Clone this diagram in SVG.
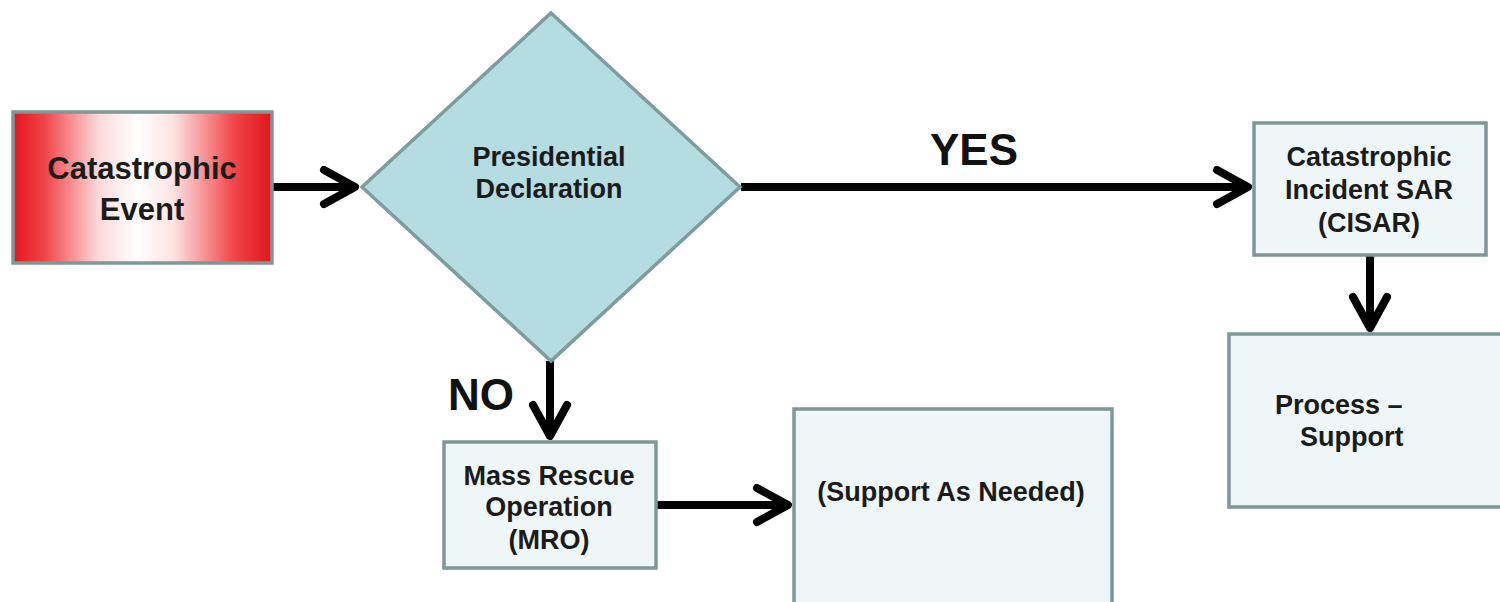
<svg xmlns="http://www.w3.org/2000/svg" width="1500" height="602" viewBox="0 0 1500 602">
  <defs>
    <linearGradient id="redFade" x1="0" y1="0" x2="1" y2="0">
      <stop offset="0" stop-color="#e5161c"/>
      <stop offset="0.12" stop-color="#ef4347"/>
      <stop offset="0.33" stop-color="#fbd9da"/>
      <stop offset="0.48" stop-color="#ffffff"/>
      <stop offset="0.62" stop-color="#fde2e2"/>
      <stop offset="0.85" stop-color="#f1474b"/>
      <stop offset="1" stop-color="#e0151b"/>
    </linearGradient>
    <marker id="chev" markerUnits="userSpaceOnUse" markerWidth="60" markerHeight="60" viewBox="-45 -30 60 60" refX="0" refY="0" orient="auto" overflow="visible">
      <path d="M-31,-17 L0,0 L-31,17" fill="none" stroke="#000" stroke-width="8" stroke-linecap="round" stroke-linejoin="round"/>
    </marker>
    <style>
      .box { fill: #eef6f8; stroke: #7e9797; stroke-width: 3.5; }
      .lbl { font-family: "Liberation Sans", Arial, sans-serif; font-weight: bold; font-size: 27px; fill: #1b1b1b; text-anchor: middle; }
      .big { font-family: "Liberation Sans", Arial, sans-serif; font-weight: bold; font-size: 44px; fill: #111; }
      .wire { fill: none; stroke: #000; stroke-width: 8; marker-end: url(#chev); }
    </style>
  </defs>

  <rect width="1500" height="602" fill="#ffffff"/>

  <g id="connectors">
    <line class="wire" x1="272" y1="187" x2="355" y2="187"/>
    <line class="wire" x1="741" y1="187" x2="1248" y2="187"/>
    <line class="wire" x1="550" y1="361" x2="550" y2="436"/>
    <line class="wire" x1="656" y1="505" x2="788" y2="505"/>
    <line class="wire" x1="1370" y1="256" x2="1370" y2="328"/>
  </g>

  <g id="catastrophic-event">
    <rect x="13" y="112" width="259" height="151" fill="url(#redFade)" stroke="#7e9797" stroke-width="3.5"/>
    <text class="lbl" x="142" y="179" style="font-size:31px">Catastrophic</text>
    <text class="lbl" x="142" y="220" style="font-size:31px">Event</text>
  </g>

  <g id="presidential-declaration">
    <polygon points="551,13 740,187 551,361 362,187" fill="#b4dce1" stroke="#7e9c9e" stroke-width="3.5"/>
    <text class="lbl" x="549" y="166">Presidential</text>
    <text class="lbl" x="549" y="198">Declaration</text>
  </g>

  <g id="label-yes">
    <text class="big" x="930" y="165">YES</text>
  </g>

  <g id="label-no">
    <text class="big" x="448" y="410">NO</text>
  </g>

  <g id="cisar">
    <rect class="box" x="1254" y="123" width="232" height="132"/>
    <text class="lbl" x="1369" y="166">Catastrophic</text>
    <text class="lbl" x="1369" y="199">Incident SAR</text>
    <text class="lbl" x="1369" y="232">(CISAR)</text>
  </g>

  <g id="process-support">
    <rect class="box" x="1229" y="334" width="290" height="173"/>
    <text class="lbl" x="1275" y="414" style="text-anchor:start">Process –</text>
    <text class="lbl" x="1300" y="446" style="text-anchor:start">Support</text>
  </g>

  <g id="mro">
    <rect class="box" x="444" y="442" width="212" height="126"/>
    <text class="lbl" x="549" y="485">Mass Rescue</text>
    <text class="lbl" x="549" y="516">Operation</text>
    <text class="lbl" x="549" y="549">(MRO)</text>
  </g>

  <g id="support-as-needed">
    <rect class="box" x="794" y="409" width="318" height="205"/>
    <text class="lbl" x="951" y="501">(Support As Needed)</text>
  </g>
</svg>
